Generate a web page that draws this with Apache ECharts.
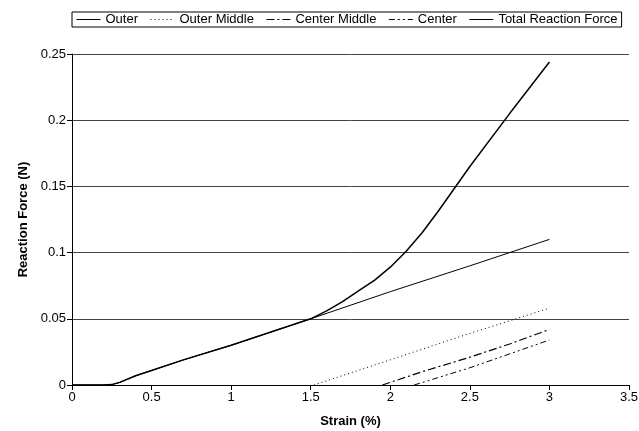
<!DOCTYPE html>
<html>
<head>
<meta charset="utf-8">
<script src="https://cdn.jsdelivr.net/npm/echarts@6/dist/echarts.min.js"></script>
<style>
  html, body { margin: 0; padding: 0; background: #fff; }
  #chart { width: 639px; height: 431px; }
</style>
</head>
<body>
<div id="chart"></div>
<script>
// strain (%) and reaction force (N) per ring
const outerStrain = [0, 0.2, 0.25, 0.3, 0.4, 0.5, 0.7, 1.0, 1.25, 1.5, 2.0, 2.5, 3.0];
const outerForce = [0, 0, 0.0003, 0.002, 0.007, 0.011, 0.019, 0.030, 0.040, 0.050, 0.0705, 0.090, 0.110];

const outerMiddleStrain = [1.52, 2.0, 2.5, 3.0];
const outerMiddleForce = [0, 0.019, 0.039, 0.058];

const centerMiddleStrain = [1.95, 2.2, 2.5, 2.75, 3.0];
const centerMiddleForce = [0, 0.010, 0.021, 0.031, 0.042];

const centerStrain = [2.15, 2.5, 3.0];
const centerForce = [0, 0.013, 0.034];

const totalStrain = [0, 0.2, 0.25, 0.3, 0.4, 0.5, 0.7, 1.0, 1.25, 1.5, 1.6, 1.7, 1.8, 1.9, 2.0, 2.1, 2.2, 2.3, 2.4, 2.5, 2.75, 3.0];
const totalForce = [0, 0, 0.0003, 0.002, 0.007, 0.011, 0.019, 0.030, 0.040, 0.050, 0.056, 0.063, 0.071, 0.079, 0.089, 0.101, 0.115, 0.131, 0.148, 0.165, 0.205, 0.244];

const seriesNames = ['Outer', 'Outer Middle', 'Center Middle', 'Center', 'Total Reaction Force'];

const pairs = (xs, ys) => xs.map((x, i) => [x, ys[i]]);

const chart = echarts.init(document.getElementById('chart'));

const font = 'Liberation Sans, Arial, sans-serif';

const lineSeries = (name, data, width, type) => ({
  name,
  type: 'line',
  data,
  symbol: 'none',
  silent: true,
  color: '#000',
  itemStyle: { color: '#000' },
  lineStyle: { color: '#000', width, type }
});

chart.setOption({
  animation: false,
  textStyle: { fontFamily: font },
  legend: {
    left: 72,
    top: 12,
    padding: [1, 4],
    borderColor: '#000',
    borderWidth: 1,
    itemGap: 12,
    itemWidth: 24,
    itemHeight: 12,
    itemStyle: { opacity: 0 },
    lineStyle: { width: 1 },
    textStyle: { fontFamily: font, fontSize: 13, color: '#000' },
    data: seriesNames
  },
  grid: {
    left: 72,
    right: 10,
    top: 54,
    bottom: 46,
    outerBoundsMode: 'none'
  },
  xAxis: {
    type: 'value',
    min: 0,
    max: 3.5,
    interval: 0.5,
    name: 'Strain (%)',
    nameLocation: 'middle',
    nameGap: 30,
    nameTextStyle: { fontFamily: font, fontSize: 13, fontWeight: 'bold', color: '#000' },
    axisLine: { lineStyle: { color: '#000', width: 1 } },
    axisTick: { show: true, length: 5, lineStyle: { color: '#000' } },
    axisLabel: { fontFamily: font, fontSize: 13, color: '#000', margin: 6 },
    splitLine: { show: false }
  },
  yAxis: {
    type: 'value',
    min: 0,
    max: 0.25,
    interval: 0.05,
    name: 'Reaction Force (N)',
    nameLocation: 'middle',
    nameGap: 40,
    nameTextStyle: { fontFamily: font, fontSize: 13, fontWeight: 'bold', color: '#000' },
    axisLine: { show: true, lineStyle: { color: '#000', width: 1 } },
    axisTick: { show: true, length: 5, lineStyle: { color: '#000' } },
    axisLabel: { fontFamily: font, fontSize: 13, color: '#000', margin: 6 },
    splitLine: { show: true, lineStyle: { color: '#444', width: 1 } }
  },
  series: [
    lineSeries('Outer', pairs(outerStrain, outerForce), 1, 'solid'),
    lineSeries('Outer Middle', pairs(outerMiddleStrain, outerMiddleForce), 1, [1, 3]),
    lineSeries('Center Middle', pairs(centerMiddleStrain, centerMiddleForce), 1.2, [8, 3, 2, 3]),
    lineSeries('Center', pairs(centerStrain, centerForce), 1, [6, 3, 2, 3, 2, 3]),
    lineSeries('Total Reaction Force', pairs(totalStrain, totalForce), 1.5, 'solid')
  ]
});
</script>
</body>
</html>
